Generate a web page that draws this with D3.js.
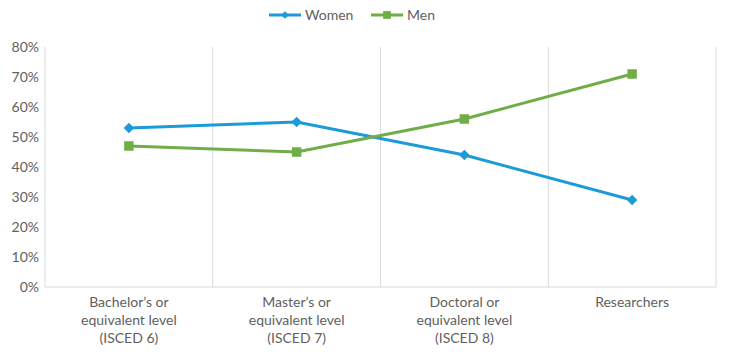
<!DOCTYPE html>
<html><head><meta charset="utf-8">
<script src="https://cdn.jsdelivr.net/npm/d3@7"></script>
<style>body{margin:0;background:#fff;}svg{display:block;font-family:Lato,"Open Sans",sans-serif;}</style>
</head><body><svg id="c" width="750" height="361"></svg>
<script>
const categories = ["Bachelor’s or|equivalent level|(ISCED 6)", "Master’s or|equivalent level|(ISCED 7)", "Doctoral or|equivalent level|(ISCED 8)", "Researchers"];
const women = [53, 55, 44, 29];
const men = [47, 45, 56, 71];
const yTicks = [0, 10, 20, 30, 40, 50, 60, 70, 80];

const svg = d3.select("#c");
const L = 45, R = 716, T = 47, B = 287;
const x = d3.scaleBand().domain(categories).range([L, R]);
const y = d3.scaleLinear().domain([0, 80]).range([B, T]);
const grey = "#d9d9d9", txt = "#5f5f5f";

// vertical separators
const bounds = categories.map(c => x(c)).concat([R]);
svg.selectAll("line.g").data(bounds).enter().append("line")
  .attr("x1", d => d).attr("x2", d => d).attr("y1", T).attr("y2", B)
  .attr("stroke", grey).attr("stroke-width", 1);
svg.append("line").attr("x1", L).attr("x2", R).attr("y1", B).attr("y2", B).attr("stroke", grey);

// y labels
svg.selectAll("text.y").data(yTicks).enter().append("text")
  .attr("x", 39).attr("y", d => y(d)).attr("dy", "0.35em")
  .attr("text-anchor", "end").attr("fill", txt).attr("font-size", 14)
  .text(d => d + "%");

// x labels
categories.forEach(c => {
  const t = svg.append("text").attr("text-anchor", "middle").attr("fill", txt).attr("font-size", 14);
  c.split("|").forEach((s, i) => {
    t.append("tspan").attr("x", x(c) + x.bandwidth() / 2).attr("y", 307 + i * 18).text(s);
  });
});

const cx = c => x(c) + x.bandwidth() / 2;
const line = d3.line().x((d, i) => cx(categories[i])).y(d => y(d));
const series = [
  {name: "Women", vals: women, color: "#1b9bd7"},
  {name: "Men", vals: men, color: "#70ad47"}
];
series.forEach(s => {
  svg.append("path").datum(s.vals).attr("d", line).attr("fill", "none")
    .attr("stroke", s.color).attr("stroke-width", 3);
  svg.selectAll(null).data(s.vals).enter().append("path")
    .attr("d", s.name === "Women"
      ? d3.symbol().type(d3.symbolSquare).size(55)()
      : d3.symbol().type(d3.symbolSquare).size(90)())
    .attr("fill", s.color)
    .attr("transform", (d, i) => `translate(${cx(categories[i])},${y(d)})` + (s.name === "Women" ? " rotate(45)" : ""));
});

// legend
const lg = [{name: "Women", color: "#1b9bd7", x: 269}, {name: "Men", color: "#70ad47", x: 371}];
lg.forEach((l, i) => {
  svg.append("line").attr("x1", l.x).attr("x2", l.x + 32).attr("y1", 15).attr("y2", 15)
    .attr("stroke", l.color).attr("stroke-width", 3);
  svg.append("path").attr("d", d3.symbol().type(d3.symbolSquare).size(i === 0 ? 30 : 60)())
    .attr("fill", l.color)
    .attr("transform", `translate(${l.x + 16},15)` + (i === 0 ? " rotate(45)" : ""));
  svg.append("text").attr("x", l.x + 36).attr("y", 15).attr("dy", "0.35em")
    .attr("fill", txt).attr("font-size", 14).text(l.name);
});
</script></body></html>
